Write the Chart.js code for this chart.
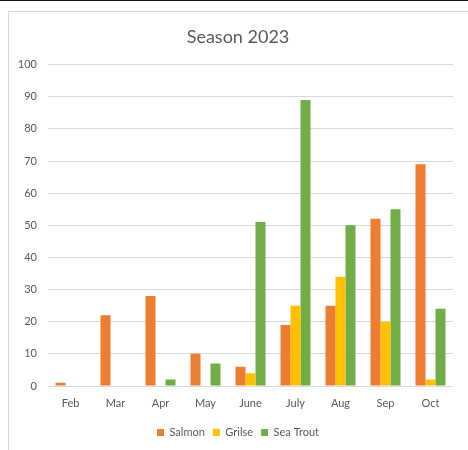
<!DOCTYPE html>
<html>
<head>
<meta charset="utf-8">
<title>Season 2023</title>
<script src="https://cdn.jsdelivr.net/npm/chart.js@4/dist/chart.umd.min.js"></script>
<style>
  html, body { margin: 0; padding: 0; background: #fff; }
  #wrap { position: relative; width: 468px; height: 450px; overflow: hidden; }
  #topline { position: absolute; left: 0; top: 0; width: 468px; height: 1px; background: #111; }
  #frame { position: absolute; left: 8px; top: 11px; width: 470px; height: 450px;
           border-top: 1px solid #d9d9d9; border-left: 1px solid #d9d9d9; }
  canvas { position: absolute; left: 0; top: 0; }
</style>
</head>
<body>
<div id="wrap">
  <div id="topline"></div>
  <div id="frame"></div>
  <canvas id="chart" width="468" height="450"></canvas>
</div>
<script>
"use strict";

const months = ["Feb", "Mar", "Apr", "May", "June", "July", "Aug", "Sep", "Oct"];
const salmon = [1, 22, 28, 10, 6, 19, 25, 52, 69];
const grilse = [0, 0, 0, 0, 4, 25, 34, 20, 2];
const seaTrout = [0, 0, 2, 7, 51, 89, 50, 55, 24];

const C = {
  salmon: "#ed7d31",
  grilse: "#ffc000",
  trout: "#70ad47",
  text: "#595959",
  grid: "#d9d9d9"
};

Chart.defaults.font.family = "Lato, 'Open Sans', sans-serif";
Chart.defaults.color = C.text;

function bar(label, data, color) {
  return {
    label: label,
    data: data,
    backgroundColor: color,
    borderWidth: 0,
    categoryPercentage: 0.667,
    barPercentage: 1
  };
}

new Chart(document.getElementById("chart"), {
  type: "bar",
  data: {
    labels: months,
    datasets: [
      bar("Salmon", salmon, C.salmon),
      bar("Grilse", grilse, C.grilse),
      bar("Sea Trout", seaTrout, C.trout)
    ]
  },
  options: {
    responsive: false,
    animation: false,
    layout: { padding: { left: 8, right: 0, top: 12, bottom: 2 } },
    plugins: {
      tooltip: { enabled: false },
      title: {
        display: true,
        text: "Season 2023",
        font: { size: 18, weight: "normal" },
        color: C.text,
        padding: { top: 14, bottom: 17 }
      },
      legend: {
        position: "bottom",
        labels: {
          boxWidth: 7,
          boxHeight: 7,
          padding: 8,
          font: { size: 11 },
          color: C.text
        }
      }
    },
    scales: {
      x: {
        grid: { display: false, drawTicks: false },
        border: { display: false },
        ticks: { padding: 11, font: { size: 11 }, color: C.text },
        afterFit(s) { s.height = 33; }
      },
      y: {
        min: 0,
        max: 100,
        ticks: { stepSize: 10, padding: 11, font: { size: 11 }, color: C.text },
        grid: { color: C.grid, lineWidth: 1, drawTicks: false },
        border: { display: false },
        afterFit(s) { s.width = 40; }
      },
      y2: {
        position: "right",
        grid: { display: false, drawTicks: false },
        border: { display: false },
        ticks: { display: false },
        afterFit(s) { s.width = 15; }
      }
    }
  }
});
</script>
</body>
</html>
